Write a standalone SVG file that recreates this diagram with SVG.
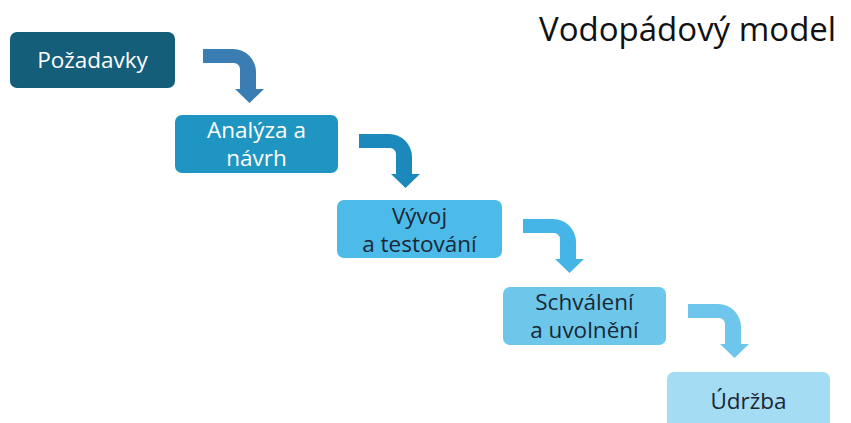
<svg xmlns="http://www.w3.org/2000/svg" width="851" height="423" viewBox="0 0 851 423">
  <defs>
    <!-- bent arrow: horizontal bar turning down into an arrowhead; origin = top-left of the bar -->
    <path id="bend" d="M0,0 H30 A23,23 0 0 1 53,23 V40 H61 L46.5,54 L32,40 H37 V20 A6,6 0 0 0 31,14 H0 Z"/>
  </defs>
  <style>
    .box { stroke: none; }
    .lbl { font-family: "Open Sans", "Noto Sans", "Liberation Sans", sans-serif; font-size: 22.5px; text-anchor: middle; }
    .light { fill: #ffffff; }
    .dark { fill: #1b2733; }
    .title { font-family: "Open Sans", "Noto Sans", "Liberation Sans", sans-serif; font-size: 33px; fill: #111111; }
  </style>
  <rect width="851" height="423" fill="#ffffff"/>

  <text class="title" x="539" y="41">Vodopádový model</text>

  <g id="connectors">
    <use href="#bend" x="203" y="49" fill="#3a7db3"/>
    <use href="#bend" x="359" y="134" fill="#1c89bd"/>
    <use href="#bend" x="523" y="219" fill="#45b5e8"/>
    <use href="#bend" x="688" y="304" fill="#6ec6ec"/>
  </g>

  <g id="pozadavky">
    <rect class="box" x="10" y="32" width="165" height="56" rx="7" fill="#155e7a"/>
    <text class="lbl light" x="92.5" y="68">Požadavky</text>
  </g>

  <g id="analyza">
    <rect class="box" x="175" y="115" width="163" height="58" rx="7" fill="#1f95c2"/>
    <text class="lbl light" x="256.5" y="138">Analýza a</text>
    <text class="lbl light" x="256.5" y="166">návrh</text>
  </g>

  <g id="vyvoj">
    <rect class="box" x="337" y="200" width="165" height="58" rx="7" fill="#4cbbea"/>
    <text class="lbl dark" x="419.5" y="224">Vývoj</text>
    <text class="lbl dark" x="419.5" y="252">a testování</text>
  </g>

  <g id="schvaleni">
    <rect class="box" x="503" y="287" width="163" height="58" rx="7" fill="#6cc7ea"/>
    <text class="lbl dark" x="584.5" y="310">Schválení</text>
    <text class="lbl dark" x="584.5" y="338">a uvolnění</text>
  </g>

  <g id="udrzba">
    <rect class="box" x="667" y="372" width="163" height="58" rx="7" fill="#a4dcf3"/>
    <text class="lbl dark" x="748.5" y="409">Údržba</text>
  </g>
</svg>
